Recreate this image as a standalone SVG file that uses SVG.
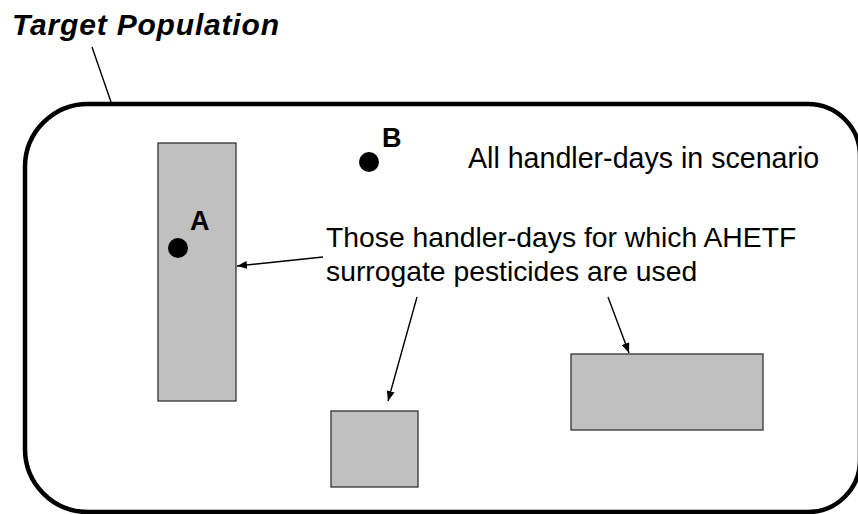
<svg xmlns="http://www.w3.org/2000/svg" width="858" height="514" viewBox="0 0 858 514">
<style>
.box{fill:#c0c0c0;stroke:#333;stroke-width:1.3}
.t{font-family:"Liberation Sans",Arial,sans-serif;fill:#000}
.lbl{font-size:27px;font-weight:bold}
.conn line{stroke:#000;stroke-width:1.4;fill:none}
.dot{fill:#000}
</style>
<defs>
<marker id="ah" viewBox="0 0 10 8" refX="10" refY="4" markerWidth="10" markerHeight="8" markerUnits="userSpaceOnUse" orient="auto">
<path d="M0,0 L10,4 L0,8 Z" fill="#000"/>
</marker>
</defs>
<rect width="858" height="514" fill="#fff"/>
<g id="population">
<path d="M88 104 H808 A52 52 0 0 1 860 156 V460 A52 52 0 0 1 808 512 H88 A63 63 0 0 1 25 449 V167 A63 63 0 0 1 88 104 Z" fill="none" stroke="#000" stroke-width="4.5"/>
</g>
<g id="title">
<text class="t" x="12" y="35" font-size="30" font-weight="bold" font-style="italic" textLength="267" lengthAdjust="spacing">Target Population</text>
</g>
<g id="box-tall"><rect class="box" x="158" y="143" width="78" height="258"/></g>
<g id="box-square"><rect class="box" x="331" y="411" width="87" height="76"/></g>
<g id="box-wide"><rect class="box" x="571" y="354" width="192" height="76"/></g>
<g id="point-a">
<circle class="dot" cx="178" cy="248" r="10"/>
<text class="t lbl" x="190" y="230">A</text>
</g>
<g id="point-b">
<circle class="dot" cx="369" cy="162" r="10"/>
<text class="t lbl" x="382" y="147">B</text>
</g>
<g id="label-all">
<text class="t" x="468" y="168" font-size="28.6">All handler-days in scenario</text>
</g>
<g id="label-those">
<text class="t" x="326" y="247" font-size="28.3">Those handler-days for which AHETF</text>
<text class="t" x="326" y="281" font-size="28.3">surrogate pesticides are used</text>
</g>
<g id="connectors" class="conn">
<line x1="92" y1="47" x2="111" y2="102"/>
<line x1="323" y1="257" x2="237" y2="266" marker-end="url(#ah)"/>
<line x1="417" y1="297" x2="388" y2="401" marker-end="url(#ah)"/>
<line x1="608" y1="297" x2="629" y2="353" marker-end="url(#ah)"/>
</g>
</svg>
